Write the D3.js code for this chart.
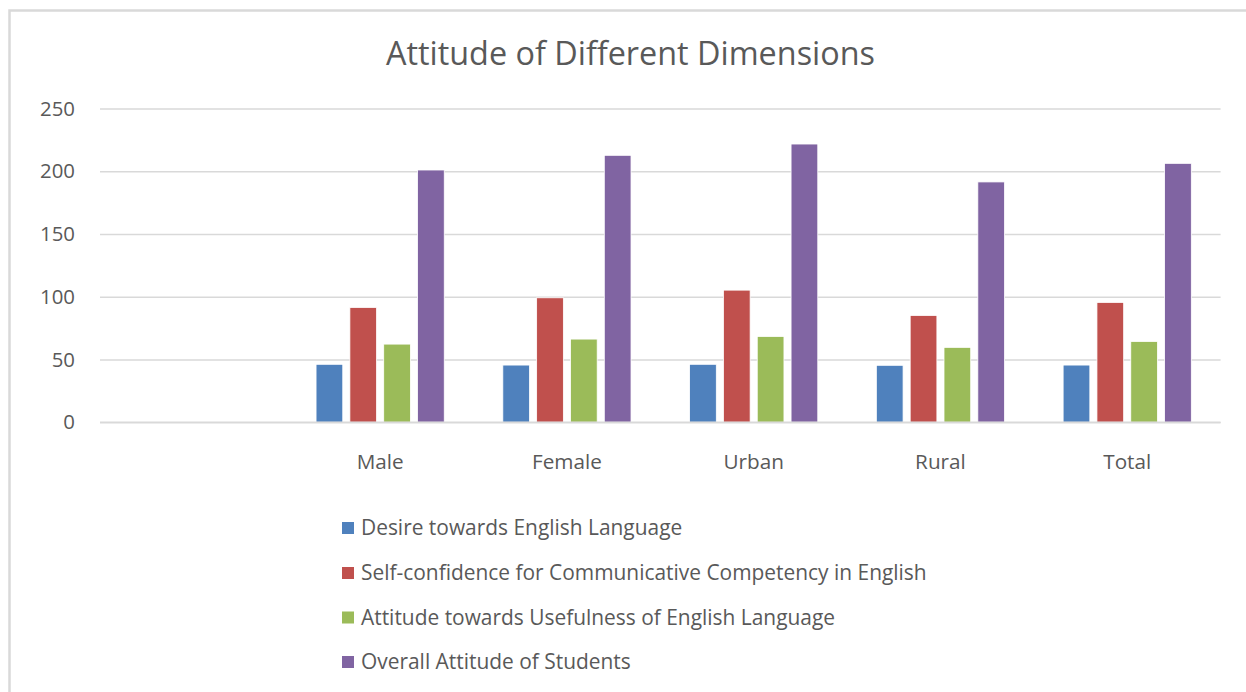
<!DOCTYPE html>
<html><head><meta charset="utf-8">
<script src="https://cdn.jsdelivr.net/npm/d3@7"></script>
<style>html,body{margin:0;padding:0;background:#fff;}svg{display:block;}</style>
</head><body>
<svg id="chart" width="1246" height="692"></svg>
<script>
const categories = ["", "Male", "Female", "Urban", "Rural", "Total"];
const seriesNames = [
  "Desire towards English Language",
  "Self-confidence for Communicative Competency in English",
  "Attitude towards Usefulness of English Language",
  "Overall Attitude of Students"
];
const desire      = [null, 46.2, 45.6, 46.2, 45.4, 45.6];
const selfConf    = [null, 91.5, 99.2, 105.3, 85.1, 95.5];
const usefulness  = [null, 62.3, 66.3, 68.4, 59.7, 64.4];
const overall     = [null, 201.0, 212.7, 221.7, 191.5, 206.3];
const yTicks = [0, 50, 100, 150, 200, 250];
const colors = ["#4F81BD", "#C0504D", "#9BBB59", "#8064A2"];
const title = "Attitude of Different Dimensions";

(function () {
const seriesValues = [desire, selfConf, usefulness, overall];
const svg = d3.select("#chart");
const FONT = "Open Sans, sans-serif";
const TXT = "#595959";

function fit(sel, target) {
  const n = sel.node();
  const w = n.getComputedTextLength();
  const fs = parseFloat(sel.attr("font-size"));
  sel.attr("font-size", (fs * target / w).toFixed(2));
  return +sel.attr("font-size");
}

// outer frame
svg.append("path").attr("d", "M9.5,692 L9.5,10.5 L1246,10.5")
  .attr("fill", "none").attr("stroke", "#d9d9d9").attr("stroke-width", 2.5);

const pLeft = 100, pRight = 1220.6, pTop = 108.5, pBottom = 422.3;
const x = d3.scaleBand().domain(categories.map((c, i) => i)).range([pLeft, pRight]).paddingInner(0).paddingOuter(0);
const y = d3.scaleLinear().domain([0, 250]).range([pBottom, pTop]);
const groupW = 128.2;
const xs = d3.scaleBand().domain(d3.range(seriesNames.length)).range([0, groupW]).paddingInner(0.21).paddingOuter(0);

// gridlines + y labels
const yAxis = d3.axisLeft(y).tickValues(yTicks).tickSize(-(pRight - pLeft)).tickPadding(25).tickFormat(d3.format("d"));
const gy = svg.append("g").attr("transform", `translate(${pLeft},0)`).call(yAxis);
gy.select(".domain").remove();
gy.selectAll(".tick line").attr("stroke", "#d9d9d9").attr("stroke-width", 1.5);
gy.selectAll(".tick text").attr("fill", TXT).attr("font-family", FONT).attr("font-size", 18).attr("x", -25);
const yLab = gy.selectAll(".tick text").filter(d => d === 250);
const yFS = fit(yLab, 35);
gy.selectAll(".tick text").attr("font-size", yFS);

// bars
categories.forEach((c, ci) => {
  seriesValues.forEach((vals, si) => {
    const v = vals[ci];
    if (v == null) return;
    const x0 = x(ci) + (x.bandwidth() - groupW) / 2 + xs(si);
    svg.append("rect")
      .attr("x", x0).attr("width", xs.bandwidth())
      .attr("y", y(v)).attr("height", y(0) - y(v))
      .attr("fill", colors[si]).attr("stroke", "#fff").attr("stroke-width", 0.8);
  });
});

// x axis
const xAxis = d3.axisBottom(x).tickSize(0).tickPadding(39).tickFormat(i => categories[i]);
const gx = svg.append("g").attr("transform", `translate(0,${pBottom})`).call(xAxis);
gx.select(".domain").remove();
gx.selectAll(".tick text").attr("fill", TXT).attr("font-family", FONT).attr("font-size", 18).attr("dy", "0.35em");
const xLab = gx.selectAll(".tick text").filter(d => d === 1);
const xFS = fit(xLab, 47);
gx.selectAll(".tick text").attr("font-size", xFS);
svg.append("line").attr("x1", pLeft).attr("x2", pRight).attr("y1", pBottom).attr("y2", pBottom)
  .attr("stroke", "#d9d9d9").attr("stroke-width", 1.5);

// title
const t = svg.append("text").attr("x", 630.5).attr("y", 65).attr("text-anchor", "middle")
  .attr("fill", TXT).attr("font-family", FONT).attr("font-size", 28).text(title);
fit(t, 489);

// legend
const legY = [528, 573, 617.5, 662];
const legTexts = [];
seriesNames.forEach((name, i) => {
  const g = svg.append("g").attr("transform", `translate(342,${legY[i]})`);
  g.append("rect").attr("x", 0).attr("y", -6).attr("width", 12).attr("height", 12).attr("fill", colors[i]);
  const tx = g.append("text").attr("x", 19).attr("y", 0).attr("dy", "0.35em").attr("fill", TXT)
    .attr("font-family", FONT).attr("font-size", 19).text(name);
  legTexts.push(tx);
});
const legFS = fit(legTexts[1], 566);
legTexts.forEach(tx => tx.attr("font-size", legFS));
})();
</script>
</body></html>
